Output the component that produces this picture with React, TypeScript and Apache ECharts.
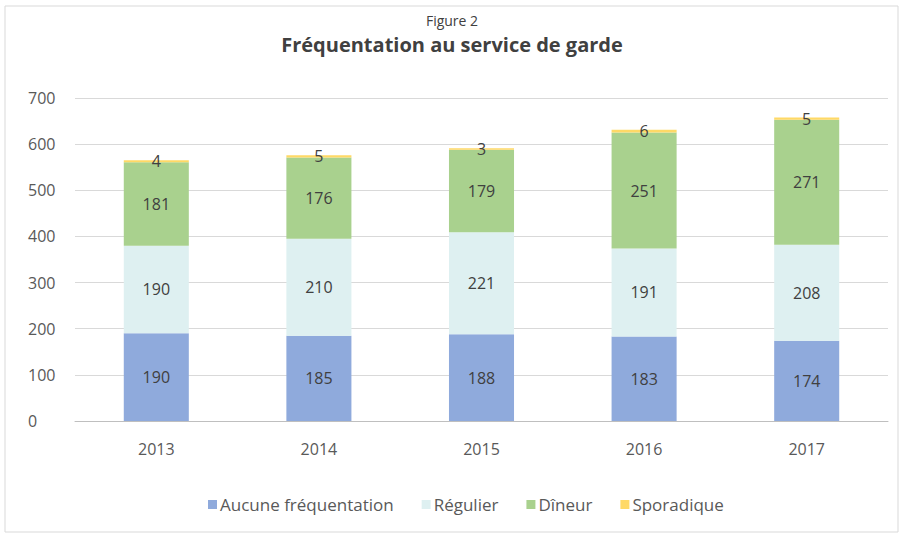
import React, { useEffect, useRef } from "react";
import * as echarts from "echarts";

const years = ["2013", "2014", "2015", "2016", "2017"];
const aucune = [190, 185, 188, 183, 174];
const regulier = [190, 210, 221, 191, 208];
const dineur = [181, 176, 179, 251, 271];
const sporadique = [4, 5, 3, 6, 5];
const yTicks = [0, 100, 200, 300, 400, 500, 600, 700];

const FONT = "'Open Sans', 'Noto Sans', sans-serif";

export default function App() {
  const ref = useRef<HTMLDivElement>(null);
  useEffect(() => {
    if (!ref.current) return;
    const chart = echarts.init(ref.current, undefined, { renderer: "svg" });
    const label = {
      show: true,
      position: "inside" as const,
      color: "#404040",
      fontSize: 16,
      fontFamily: FONT,
    };
    const mk = (name: string, data: number[], color: string) => ({
      name,
      type: "bar" as const,
      stack: "total",
      data,
      barWidth: "40%",
      itemStyle: { color },
      label,
    });
    chart.setOption({
      animation: false,
      backgroundColor: "#ffffff",
      title: [
        {
          text: "Figure 2",
          left: "center",
          top: 8,
          textStyle: { fontFamily: FONT, fontSize: 14, fontWeight: "normal", color: "#404040" },
        },
        {
          text: "Fréquentation au service de garde",
          left: "center",
          top: 29,
          textStyle: { fontFamily: FONT, fontSize: 20, fontWeight: "bold", color: "#404040" },
        },
      ],
      legend: {
        top: 491,
        left: 203,
        itemWidth: 9,
        itemHeight: 9,
        itemGap: 28,
        icon: "rect",
        textStyle: { fontFamily: FONT, fontSize: 17, color: "#595959", padding: [0, 0, 0, -2] },
        data: ["Aucune fréquentation", "Régulier", "Dîneur", "Sporadique"],
      },
      grid: { left: 75, right: 16, top: 98, bottom: 116, containLabel: false },
      xAxis: {
        type: "category",
        data: years,
        axisLine: { lineStyle: { color: "#bfbfbf" } },
        axisTick: { show: false },
        axisLabel: { fontFamily: FONT, fontSize: 16, color: "#595959", margin: 20 },
      },
      yAxis: {
        type: "value",
        min: yTicks[0],
        max: yTicks[yTicks.length - 1],
        interval: 100,
        axisLine: { show: false },
        axisTick: { show: false },
        splitLine: { lineStyle: { color: "#d9d9d9" } },
        axisLabel: { fontFamily: FONT, fontSize: 16, color: "#595959", margin: 47, align: "left" },
      },
      series: [
        mk("Aucune fréquentation", aucune, "#8faadc"),
        mk("Régulier", regulier, "#def0f1"),
        mk("Dîneur", dineur, "#a9d18e"),
        mk("Sporadique", sporadique, "#ffd966"),
      ],
      graphic: [
        {
          type: "rect",
          shape: { x: 5, y: 6, width: 893, height: 526 },
          style: { fill: "none", stroke: "#d9d9d9", lineWidth: 1 },
          silent: true,
        },
      ],
    });
    return () => chart.dispose();
  }, []);
  return (
    <div
      ref={ref}
      style={{ position: "absolute", left: 0, top: 0, width: 904, height: 537 }}
    />
  );
}
